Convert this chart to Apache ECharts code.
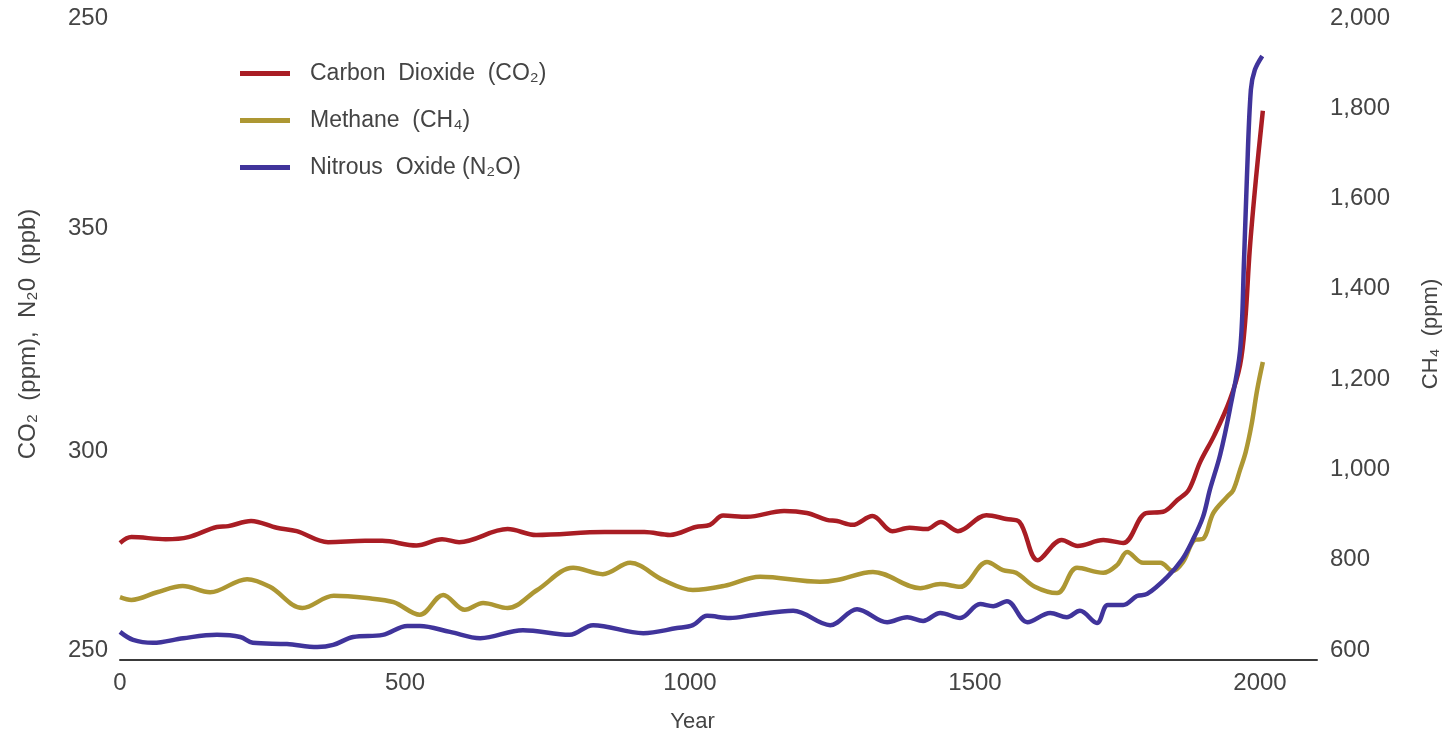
<!DOCTYPE html>
<html>
<head>
<meta charset="utf-8">
<script src="https://cdn.jsdelivr.net/npm/echarts@6/dist/echarts.min.js"></script>
<style>
html,body{margin:0;padding:0;background:#fff;}
#chart{width:1452px;height:736px;}
</style>
</head>
<body>
<div id="chart"></div>
<script>
// ---- data ----
const seriesNames = ['Carbon  Dioxide  (CO₂)', 'Methane  (CH₄)', 'Nitrous  Oxide (N₂O)'];

const co2Years = [0, 20, 80, 120, 170, 190, 230, 275, 310, 365, 430, 460, 520, 565, 595, 680, 730, 850, 920, 965, 1010, 1035, 1058, 1100, 1165, 1205, 1240, 1258, 1285, 1320, 1355, 1385, 1415, 1440, 1470, 1520, 1555, 1578, 1610, 1652, 1680, 1725, 1760, 1800, 1830, 1855, 1875, 1895, 1920, 1947, 1965, 1974, 1982, 1993, 2005];
const co2Values = [275.4, 276.8, 276.3, 276.8, 279.2, 279.4, 280.6, 279.0, 278.2, 275.6, 275.9, 275.9, 274.8, 276.3, 275.6, 278.7, 277.3, 278.0, 278.0, 277.3, 279.2, 279.7, 281.9, 281.6, 283.0, 282.5, 280.9, 280.6, 279.7, 281.8, 278.2, 279.0, 278.7, 280.4, 278.2, 282.0, 281.1, 280.4, 271.3, 276.1, 274.7, 276.1, 275.4, 282.5, 282.8, 285.6, 288.0, 294.6, 301.0, 309.3, 317.6, 328.0, 345.0, 362.0, 378.0];

const ch4Years = [0, 20, 65, 110, 158, 223, 263, 320, 375, 433, 480, 526, 567, 605, 637, 680, 732, 795, 847, 895, 953, 1005, 1060, 1123, 1228, 1258, 1321, 1404, 1439, 1474, 1521, 1549, 1572, 1605, 1644, 1679, 1725, 1749, 1767, 1795, 1825, 1847, 1865, 1886, 1900, 1918, 1942, 1953, 1965, 1975, 1985, 1995, 2005];
const ch4Values = [717, 711, 728, 742, 728, 757, 740, 693, 720, 715, 706, 678, 722, 689, 704, 693, 733, 782, 768, 793, 755, 733, 742, 762, 751, 755, 773, 737, 746, 740, 795, 777, 771, 740, 726, 782, 771, 788, 817, 793, 793, 775, 795, 844, 846, 903, 939, 954, 999, 1039, 1098, 1176, 1238];

const n2oYears = [0, 23, 58, 111, 170, 211, 233, 293, 346, 374, 409, 461, 504, 526, 579, 632, 707, 789, 830, 918, 977, 1005, 1030, 1070, 1111, 1181, 1246, 1293, 1346, 1381, 1409, 1439, 1474, 1509, 1532, 1556, 1592, 1632, 1661, 1684, 1714, 1733, 1760, 1784, 1802, 1837, 1863, 1882, 1900, 1912, 1930, 1947, 1965, 1972, 1977, 1984, 1991, 2004];
const n2oValues = [254.3, 252.4, 251.7, 252.8, 253.6, 253.1, 251.7, 251.4, 250.7, 251.2, 253.1, 253.6, 255.7, 255.7, 254.3, 252.8, 254.7, 253.6, 255.9, 254.0, 255.2, 255.9, 258.1, 257.6, 258.3, 259.3, 255.9, 259.7, 256.6, 257.8, 256.9, 258.8, 257.6, 260.9, 260.4, 261.6, 256.6, 258.8, 257.8, 259.3, 256.4, 260.7, 260.7, 262.8, 263.3, 267.3, 271.4, 276.1, 281.6, 288.0, 296.3, 307.0, 321.0, 342.6, 362.0, 383.0, 387.7, 391.0];

// tick labels as printed on the reference
const xTickLabels = ['0', '500', '1000', '1500', '2000'];
const leftTickLabels = ['250', '300', '350', '250'];
const rightTickLabels = ['600', '800', '1,000', '1,200', '1,400', '1,600', '1,800', '2,000'];

const colors = ['#a91d24', '#ad9733', '#40349b'];

function pairs(xs, ys) { return xs.map((x, i) => [x, ys[i]]); }

const chart = echarts.init(document.getElementById('chart'));
const font = '"Liberation Sans", Arial, sans-serif';
const txt = '#444';

chart.setOption({
  animation: false,
  textStyle: { fontFamily: font },
  grid: { left: 120, right: 135, top: 18, bottom: 86, containLabel: false, outerBoundsMode: 'none' },
  legend: {
    orient: 'vertical', left: 235, top: 57,
    itemWidth: 50, itemHeight: 5, itemGap: 24,
    icon: 'rect',
    textStyle: { fontSize: 23, color: txt, fontFamily: font, padding: [0, 0, 0, 15] },
    data: seriesNames
  },
  xAxis: {
    type: 'value', min: 0, max: 2100, interval: 500, offset: 10,
    name: 'Year', nameLocation: 'middle', nameGap: 51,
    nameTextStyle: { fontSize: 22, color: txt, padding: [0, 52, 0, 0] },
    axisLine: { show: true, onZero: false, lineStyle: { color: '#3a3a3a', width: 2 } },
    axisTick: { show: false },
    splitLine: { show: false },
    axisLabel: {
      fontSize: 24, color: txt, margin: 11, showMaxLabel: false,
      formatter: v => xTickLabels[Math.round(v / 500)] ?? ''
    }
  },
  yAxis: [
    {
      type: 'value', min: 250, max: 400, interval: 50, position: 'left',
      name: 'CO₂  (ppm),  N₂0  (ppb)', nameLocation: 'middle', nameGap: 80, nameRotate: 90,
      nameTextStyle: { fontSize: 24, color: txt },
      axisLine: { show: false }, axisTick: { show: false }, splitLine: { show: false },
      axisLabel: {
        fontSize: 24, color: txt, margin: 12,
        formatter: v => {
          const s = leftTickLabels[Math.round((v - 250) / 50)] ?? '';
          return v === 300 ? '{lo|' + s + '}' : s;
        },
        rich: { lo: { fontSize: 24, color: txt, padding: [24, 0, 0, 0] } }
      }
    },
    {
      type: 'value', min: 600, max: 2000, interval: 200, position: 'right',
      name: 'CH₄  (ppm)', nameLocation: 'middle', nameGap: 103, nameRotate: 90,
      nameTextStyle: { fontSize: 22, color: txt },
      axisLine: { show: false }, axisTick: { show: false }, splitLine: { show: false },
      axisLabel: {
        fontSize: 24, color: txt, margin: 13, align: 'left',
        formatter: v => rightTickLabels[Math.round((v - 600) / 200)] ?? ''
      }
    }
  ],
  series: [
    {
      name: seriesNames[0], type: 'line', yAxisIndex: 0, data: pairs(co2Years, co2Values),
      showSymbol: false, smooth: 0.35, color: colors[0],
      lineStyle: { width: 4.5, color: colors[0] }, itemStyle: { color: colors[0] }, z: 3
    },
    {
      name: seriesNames[1], type: 'line', yAxisIndex: 1, data: pairs(ch4Years, ch4Values),
      showSymbol: false, smooth: 0.35, color: colors[1],
      lineStyle: { width: 4.5, color: colors[1] }, itemStyle: { color: colors[1] }, z: 2
    },
    {
      name: seriesNames[2], type: 'line', yAxisIndex: 0, data: pairs(n2oYears, n2oValues),
      showSymbol: false, smooth: 0.35, color: colors[2],
      lineStyle: { width: 4.5, color: colors[2] }, itemStyle: { color: colors[2] }, z: 4
    }
  ]
});
</script>
</body>
</html>
